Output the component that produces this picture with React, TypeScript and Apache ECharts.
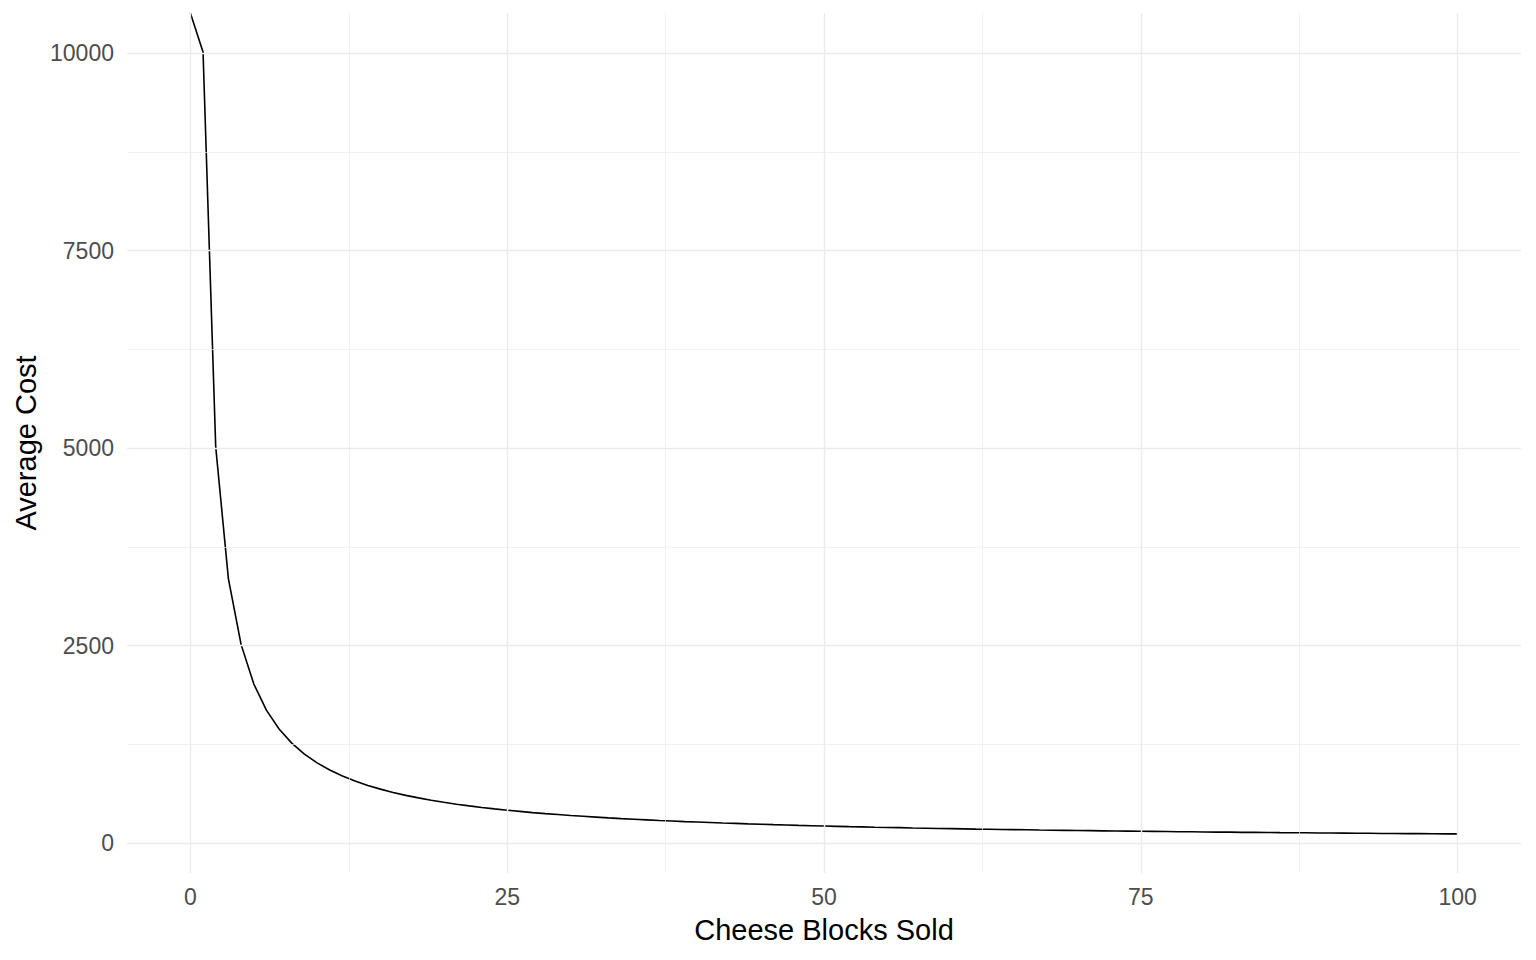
import React, { useEffect, useRef } from "react";
import * as echarts from "echarts";

// Cheese blocks sold (x) and average cost (y). x = 0 has an infinite average cost,
// drawn at the top edge of the panel as in the reference.
const blocksSold: number[] = Array.from({ length: 101 }, (_, i) => i);
const averageCost: number[] = [
  10510,
  10015, 5015, 3348, 2515, 2015, 1682, 1444, 1265, 1126, 1015,
  924, 848, 784, 729, 682, 640, 603, 571, 541, 515,
  491, 470, 450, 432, 415, 400, 385, 372, 360, 348,
  338, 328, 318, 309, 301, 293, 285, 278, 271, 265,
  259, 253, 248, 242, 237, 232, 228, 223, 219, 215,
  211, 207, 204, 200, 197, 194, 190, 187, 184, 182,
  179, 176, 174, 171, 169, 167, 164, 162, 160, 158,
  156, 154, 152, 150, 148, 147, 145, 143, 142, 140,
  138, 137, 135, 134, 133, 131, 130, 129, 127, 126,
  125, 124, 123, 121, 120, 119, 118, 117, 116, 115,
];

const xTicks: number[] = [0, 25, 50, 75, 100];
const xMinor: number[] = [12.5, 37.5, 62.5, 87.5];
const yTicks: number[] = [0, 2500, 5000, 7500, 10000];
const yMinor: number[] = [1250, 3750, 6250, 8750];

const X_MIN = -5;
const X_MAX = 105;
const Y_MIN = -380;
const Y_MAX = 10510;

const FONT = "Liberation Sans, Arial, Helvetica, sans-serif";
const GRID_COLOR = "#EBEBEB";

export default function App() {
  const ref = useRef<HTMLDivElement>(null);

  useEffect(() => {
    if (!ref.current) return;
    const chart = echarts.init(ref.current, undefined, { renderer: "svg" });

    const major = { color: GRID_COLOR, width: 1.4, type: "solid" as const };
    const minor = { color: GRID_COLOR, width: 0.7, type: "solid" as const };

    const gridLines = [
      ...xMinor.map((v) => ({ xAxis: v, lineStyle: minor })),
      ...yMinor.map((v) => ({ yAxis: v, lineStyle: minor })),
      ...xTicks.map((v) => ({ xAxis: v, lineStyle: major })),
      ...yTicks.map((v) => ({ yAxis: v, lineStyle: major })),
    ];

    const points = blocksSold.map((x, i) => [x, averageCost[i]]);

    chart.setOption({
      animation: false,
      backgroundColor: "#FFFFFF",
      grid: { left: 127, right: 15, top: 13, bottom: 87, containLabel: false },
      xAxis: {
        type: "value",
        min: X_MIN,
        max: X_MAX,
        axisLine: { show: false },
        axisTick: { show: false },
        splitLine: { show: false },
        axisLabel: {
          customValues: xTicks,
          formatter: (v: number) => String(v),
          color: "#4D4D4D",
          fontSize: 23,
          fontFamily: FONT,
          margin: 12,
        },
      },
      yAxis: {
        type: "value",
        min: Y_MIN,
        max: Y_MAX,
        axisLine: { show: false },
        axisTick: { show: false },
        splitLine: { show: false },
        axisLabel: {
          customValues: yTicks,
          formatter: (v: number) => String(v),
          color: "#4D4D4D",
          fontSize: 23,
          fontFamily: FONT,
          margin: 13,
        },
      },
      graphic: [
        {
          type: "text",
          x: 824,
          y: 930,
          style: {
            text: "Cheese Blocks Sold",
            fill: "#000000",
            fontSize: 29,
            fontFamily: FONT,
            align: "center",
            verticalAlign: "middle",
          },
        },
        {
          type: "text",
          x: 26,
          y: 443,
          rotation: Math.PI / 2,
          style: {
            text: "Average Cost",
            fill: "#000000",
            fontSize: 29,
            fontFamily: FONT,
            align: "center",
            verticalAlign: "middle",
          },
        },
      ],
      series: [
        {
          type: "line",
          name: "grid",
          z: 1,
          silent: true,
          data: points,
          symbol: "none",
          lineStyle: { opacity: 0 },
          markLine: {
            silent: true,
            symbol: ["none", "none"],
            label: { show: false },
            emphasis: { disabled: true },
            animation: false,
            data: gridLines,
          },
        },
        {
          type: "line",
          name: "Average Cost",
          z: 3,
          data: points,
          symbol: "none",
          showSymbol: false,
          lineStyle: { color: "#000000", width: 1.6 },
          clip: true,
        },
      ],
    });

    return () => {
      chart.dispose();
    };
  }, []);

  return (
    <div
      ref={ref}
      style={{ position: "fixed", left: 0, top: 0, width: 1536, height: 960 }}
    />
  );
}
